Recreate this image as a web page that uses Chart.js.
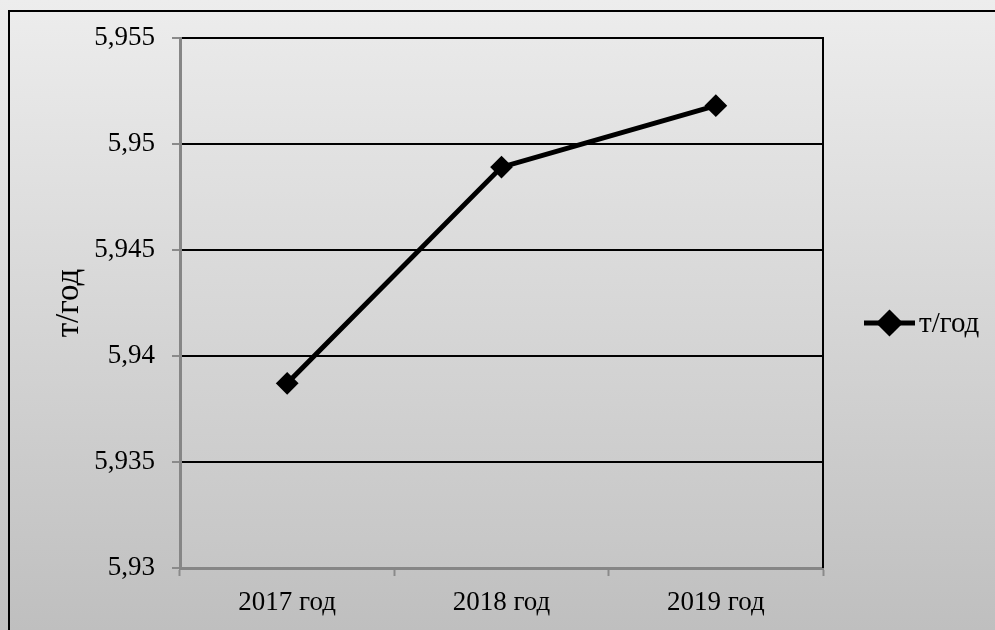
<!DOCTYPE html>
<html>
<head>
<meta charset="utf-8">
<script src="https://cdn.jsdelivr.net/npm/chart.js@4"></script>
<style>
  html, body { margin: 0; padding: 0; overflow: hidden; }
  body {
    width: 995px; height: 630px; position: relative;
    background: linear-gradient(to bottom, #ededed 0%, #d6d6d6 50%, #bfbfbf 100%);
  }
  #frame {
    position: absolute; left: 8px; top: 10px; width: 1100px; height: 700px;
    border-left: 2px solid #000; border-top: 2px solid #000; box-sizing: border-box;
  }
  #wrap { position: absolute; left: 0; top: 0; width: 995px; height: 630px; }
</style>
</head>
<body>
<div id="frame"></div>
<div id="wrap"><canvas id="chart" width="995" height="630"></canvas></div>
<script>
const categories = ['2017 год', '2018 год', '2019 год'];
const values = [5.93871, 5.94891, 5.95181];
const seriesLabel = 'т/год';
const axisTitle = 'т/год';
const yTicks = [5.93, 5.935, 5.94, 5.945, 5.95, 5.955];

const serif = '"Liberation Serif", "Times New Roman", serif';

// gray gradient behind the plot, black edge on the right
const plotBackground = {
  id: 'plotBackground',
  beforeDraw(chart) {
    const { ctx, chartArea: a } = chart;
    const g = ctx.createLinearGradient(0, a.top, 0, a.bottom);
    g.addColorStop(0, '#e9e9e9');
    g.addColorStop(1, '#c6c6c6');
    ctx.save();
    ctx.fillStyle = g;
    ctx.fillRect(a.left, a.top, a.right - a.left, a.bottom - a.top);
    ctx.restore();
  },
  beforeDatasetsDraw(chart) {
    const { ctx, chartArea: a } = chart;
    ctx.save();
    ctx.strokeStyle = '#000';
    ctx.lineWidth = 2;
    ctx.beginPath();
    ctx.moveTo(a.right, a.top - 1);
    ctx.lineTo(a.right, a.bottom);
    ctx.stroke();
    ctx.restore();
  }
};

// legend entry: line with a diamond, then the series name
const lineLegend = {
  id: 'lineLegend',
  afterDraw(chart) {
    const { ctx, chartArea: a } = chart;
    const ds = chart.data.datasets[0];
    const y = 323;
    const x0 = a.right + 41;
    const x1 = a.right + 92;
    ctx.save();
    ctx.strokeStyle = ds.borderColor;
    ctx.lineWidth = 5;
    ctx.beginPath();
    ctx.moveTo(x0, y);
    ctx.lineTo(x1, y);
    ctx.stroke();
    Chart.helpers.drawPoint(ctx, {
      pointStyle: 'rectRot', radius: 10, borderWidth: 2, rotation: 0
    }, (x0 + x1) / 2, y);
    ctx.fillStyle = '#000';
    ctx.font = '29px ' + serif;
    ctx.textBaseline = 'middle';
    ctx.fillText(ds.label, x1 + 4, y + 1);
    ctx.restore();
  }
};

new Chart(document.getElementById('chart'), {
  type: 'line',
  data: {
    labels: categories,
    datasets: [{
      label: seriesLabel,
      data: values,
      borderColor: '#000',
      backgroundColor: '#000',
      borderWidth: 5,
      tension: 0,
      pointStyle: 'rectRot',
      pointRadius: 10,
      pointBorderWidth: 2,
      pointBackgroundColor: '#000',
      pointBorderColor: '#000',
      pointHoverRadius: 10
    }]
  },
  options: {
    responsive: false,
    animation: false,
    events: [],
    layout: { padding: { left: 0, top: 38, right: 172, bottom: 0 } },
    plugins: {
      legend: { display: false },
      tooltip: { enabled: false }
    },
    scales: {
      x: {
        offset: true,
        grid: {
          offset: true,
          drawOnChartArea: false,
          drawTicks: true,
          tickLength: 8,
          tickColor: '#8a8a8a',
          tickWidth: 2
        },
        border: { color: '#868686', width: 3 },
        ticks: { color: '#000', font: { family: serif, size: 27 }, padding: 11 },
        afterFit(scale) { scale.height = 62; }
      },
      y: {
        min: yTicks[0],
        max: yTicks[yTicks.length - 1],
        afterBuildTicks(scale) {
          scale.ticks = yTicks.map(v => ({ value: v }));
        },
        grid: {
          color: c => (c.tick && c.tick.value === yTicks[0]) ? 'rgba(0,0,0,0)' : '#000',
          lineWidth: 2,
          tickLength: 8,
          tickColor: '#8a8a8a',
          tickWidth: 2
        },
        border: { color: '#868686', width: 3 },
        ticks: {
          color: '#000',
          font: { family: serif, size: 27 },
          padding: 17,
          callback: v => String(+v.toFixed(3)).replace('.', ',')
        },
        title: {
          display: true,
          text: axisTitle,
          color: '#000',
          font: { family: serif, size: 33 },
          padding: { top: 50, bottom: 0 }
        },
        afterFit(scale) { scale.width = 180; }
      }
    }
  },
  plugins: [plotBackground, lineLegend]
});
</script>
</body>
</html>
